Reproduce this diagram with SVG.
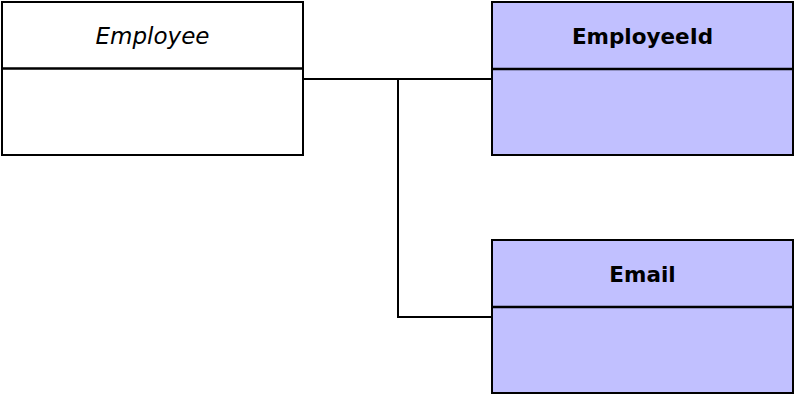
<svg xmlns="http://www.w3.org/2000/svg" width="796" height="394" viewBox="0 0 796 394">
<style>
.box{stroke:#000;stroke-width:2}
.plain{fill:#fff}
.val{fill:#c1c0ff}
.div{stroke:#000;stroke-width:2.5}
.lbl{font-family:"DejaVu Sans",sans-serif;font-size:23px;text-anchor:middle;fill:#000}
.it{font-style:italic}
.b{font-weight:bold;font-size:21.5px}
.conn{fill:none;stroke:#000;stroke-width:2}
</style>
<rect width="796" height="394" fill="#fff"/>
<g id="connectors">
<path class="conn" d="M303,79 H492"/>
<path class="conn" d="M398,79 V317 H492"/>
</g>
<g id="employee">
<rect class="box plain" x="2" y="2" width="301" height="153"/>
<line class="div" x1="2" y1="68.5" x2="303" y2="68.5"/>
<text class="lbl it" x="152.5" y="44">Employee</text>
</g>
<g id="employeeId">
<rect class="box val" x="492" y="2" width="301" height="153"/>
<line class="div" x1="492" y1="69" x2="793" y2="69"/>
<text class="lbl b" x="642.5" y="43.5">EmployeeId</text>
</g>
<g id="email">
<rect class="box val" x="492" y="240" width="301" height="153"/>
<line class="div" x1="492" y1="307" x2="793" y2="307"/>
<text class="lbl b" x="642.5" y="281.5">Email</text>
</g>
</svg>
